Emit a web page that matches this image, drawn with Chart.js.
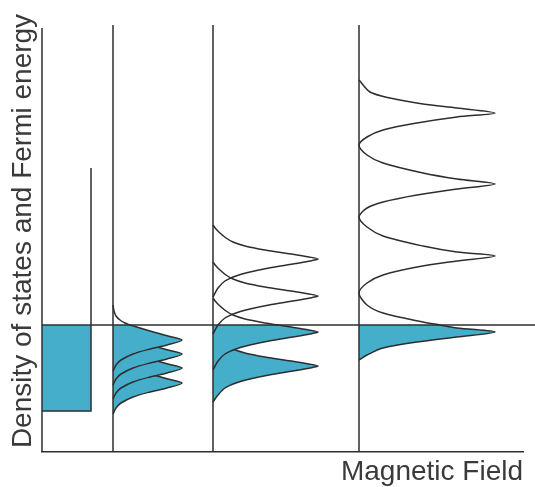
<!DOCTYPE html>
<html>
<head>
<meta charset="utf-8">
<title>Density of states and Fermi energy</title>
<script src="https://cdn.jsdelivr.net/npm/chart.js@4.4.0/dist/chart.umd.min.js"></script>
<style>
  html, body { margin: 0; padding: 0; background: #fff; }
  canvas { display: block; }
</style>
</head>
<body>
<canvas id="myChart" width="535" height="487"></canvas>
<script>
// Niveau de Fermi (unités arbitraires d'énergie)
const fermiEnergy = 127;

// Abscisses des trois champs non nuls, et hauteur des traits verticaux
const fieldPositions = [71, 171, 317];
const fieldLineTop = 427;
const axisTop = 424;
const axisRight = 481;
const fermiLineEnd = 493;

// B = 0 : densité d'états constante, remplie jusqu'au niveau de Fermi  [densité, énergie]
const freeFilled = [[49, 41], [49, 127]];
const freeOutline = [[0, 41], [49, 41], [49, 284]];

// Champ faible : 4 niveaux de Landau sous E_F
const weakUpper = [[0, 147], [1, 141], [3, 136], [7, 132], [12, 129], [17, 127]];
const weakLevels = [
    [[17, 127], [37, 121], [55, 116], [69, 112], [54, 107], [37, 103], [20, 98], [8, 92], [3, 87], [0, 81]],
    [[3, 122], [7, 118], [12, 115], [17, 113], [37, 107], [55, 102], [69, 98], [54, 93], [37, 89], [20, 84], [8, 78], [3, 73], [0, 67]],
    [[3, 108], [7, 104], [12, 101], [17, 99], [37, 93], [55, 88], [69, 84], [54, 79], [37, 75], [20, 70], [8, 64], [3, 59], [0, 53]],
    [[3, 93], [7, 89], [12, 86], [17, 84], [37, 78], [55, 73], [69, 69], [54, 64], [37, 60], [20, 55], [8, 49], [3, 44], [0, 38]]
];

// Champ moyen : 2 niveaux vides, 2 niveaux remplis
const mediumEmpty = [
    [[0, 227], [3, 223], [7, 219], [13, 214], [20, 210], [32, 206], [52, 202], [78, 198], [96, 195], [105, 193], [97, 191], [80, 188], [56, 184], [37, 180], [23, 176], [12, 171], [5, 164], [0, 155]],
    [[0, 190], [3, 186], [7, 182], [13, 177], [20, 173], [32, 169], [52, 165], [78, 161], [96, 158], [105, 156], [97, 154], [80, 151], [56, 147], [37, 143], [23, 139], [12, 134], [5, 127], [0, 118]]
];
const mediumUpper = [[0, 154], [3, 150], [7, 146], [13, 141], [20, 137], [32, 133], [52, 129], [65, 127]];
const mediumLevels = [
    [[65, 127], [78, 125], [96, 122], [105, 120], [97, 118], [80, 115], [56, 111], [37, 107], [23, 103], [12, 98], [5, 91], [0, 82]],
    [[0, 120], [3, 116], [7, 112], [13, 107], [20, 103], [32, 99], [52, 95], [78, 91], [96, 88], [105, 86], [97, 84], [80, 81], [56, 77], [37, 73], [23, 69], [12, 64], [5, 57], [0, 50]]
];

// Champ fort : un seul niveau rempli
const strongUpper = [
    [0, 372], [11, 360], [31, 354], [64, 348], [98, 344], [136, 339], [98, 335], [58, 329], [24, 322], [8, 315], [0, 307],
    [8, 297], [24, 289], [64, 279], [98, 273], [136, 268], [98, 263], [58, 257], [24, 250], [8, 244], [0, 235],
    [8, 225], [24, 216], [64, 206], [98, 200], [136, 196], [98, 191], [58, 185], [24, 177], [8, 169], [0, 159],
    [8, 147], [24, 139], [64, 130], [81, 127]
];
const strongFilled = [[81, 127], [98, 124], [136, 120], [98, 115], [58, 110], [24, 104], [8, 97], [0, 92]];

// Couleurs
const lineColor = '#2e2e2e';
const fillColor = '#45aecb';
const textColor = '#3a3a3a';

function toPoints(base, pairs) {
    return pairs.map(([dos, energy]) => ({ x: base + dos, y: energy }));
}

// Courbe de densité d'états (remplie ou non jusqu'au trait du panneau)
function curve(base, pairs, filled) {
    return {
        data: toPoints(base, pairs),
        borderColor: lineColor,
        borderWidth: 1.5,
        backgroundColor: fillColor,
        fill: filled ? { value: base } : false,
        tension: 0.3
    };
}

// Trait droit
function straight(points) {
    return {
        data: points,
        borderColor: lineColor,
        borderWidth: 1.5,
        fill: false,
        tension: 0
    };
}

const datasets = [];
datasets.push(straight([{ x: 0, y: fermiEnergy }, { x: fermiLineEnd, y: fermiEnergy }]));
datasets.push(straight([{ x: 0, y: 0 }, { x: 0, y: axisTop }]));
fieldPositions.forEach(pos => {
    datasets.push(straight([{ x: pos, y: 0 }, { x: pos, y: fieldLineTop }]));
});
datasets.push(straight(toPoints(0, freeOutline)));
datasets.push({
    data: toPoints(0, freeFilled),
    borderWidth: 0,
    borderColor: 'rgba(0,0,0,0)',
    backgroundColor: fillColor,
    fill: { value: 0 },
    tension: 0
});
datasets.push(curve(fieldPositions[0], weakUpper, false));
weakLevels.forEach(level => datasets.push(curve(fieldPositions[0], level, true)));
mediumEmpty.forEach(level => datasets.push(curve(fieldPositions[1], level, false)));
datasets.push(curve(fieldPositions[1], mediumUpper, false));
mediumLevels.forEach(level => datasets.push(curve(fieldPositions[1], level, true)));
datasets.push(curve(fieldPositions[2], strongUpper, false));
datasets.push(curve(fieldPositions[2], strongFilled, true));

const ctx = document.getElementById('myChart').getContext('2d');
const myChart = new Chart(ctx, {
    type: 'line',
    data: { datasets: datasets },
    options: {
        responsive: false,
        animation: false,
        indexAxis: 'y',
        layout: { padding: { left: 0, right: 12, top: 10, bottom: 0 } },
        elements: { point: { radius: 0, hoverRadius: 0 } },
        datasets: { line: { clip: false } },
        plugins: {
            legend: { display: false },
            tooltip: { enabled: false }
        },
        scales: {
            x: {
                type: 'linear',
                position: 'bottom',
                min: 0,
                max: axisRight,
                grid: { display: false, drawTicks: false },
                ticks: { display: false },
                border: { display: true, color: lineColor, width: 1.5 },
                title: {
                    display: true,
                    text: 'Magnetic Field',
                    align: 'end',
                    color: textColor,
                    font: { family: "'Liberation Sans', Arial, sans-serif", size: 28, lineHeight: 1 },
                    padding: { top: 6, bottom: 1 }
                }
            },
            y: {
                type: 'linear',
                position: 'left',
                min: 0,
                max: 442,
                grid: { display: false, drawTicks: false },
                ticks: { display: false },
                border: { display: false },
                title: {
                    display: true,
                    text: 'Density of states and Fermi energy',
                    align: 'center',
                    color: textColor,
                    font: { family: "'Liberation Sans', Arial, sans-serif", size: 28, lineHeight: 1 },
                    padding: { top: 9, bottom: 5 }
                }
            }
        }
    }
});
</script>
</body>
</html>
